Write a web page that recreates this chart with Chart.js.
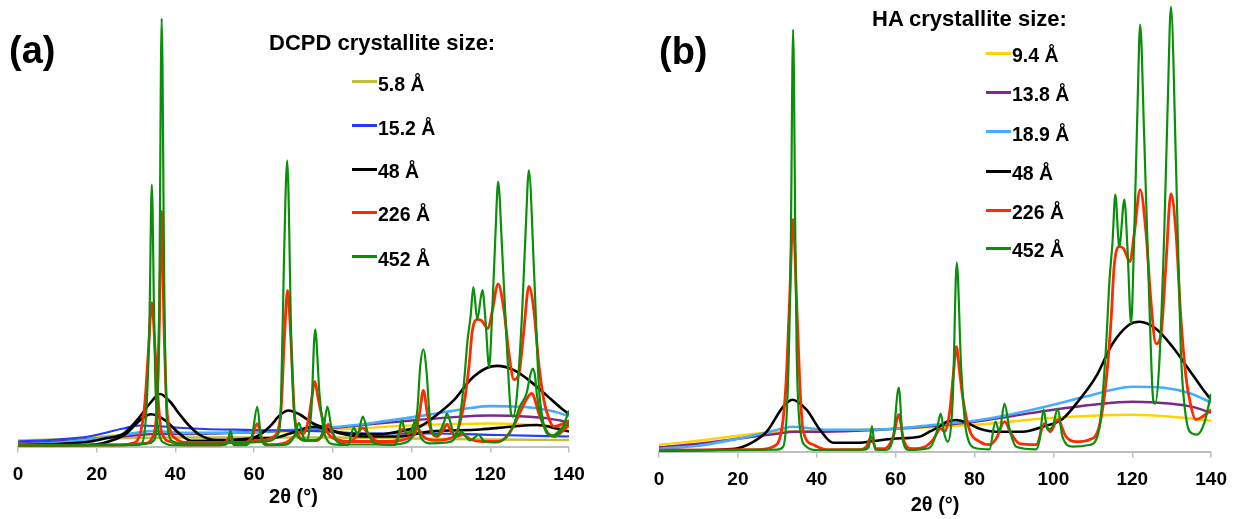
<!DOCTYPE html>
<html lang="en">
<head>
<meta charset="UTF-8" />
<title>Crystallite size – DCPD / HA</title>
<script src="https://cdn.jsdelivr.net/npm/chart.js"></script>
<style>
  body { margin: 0; background: #fff; }
  #wrap { position: relative; width: 1238px; height: 519px; overflow: hidden;
          font-family: "Liberation Sans", Arial, sans-serif; font-weight: bold; color: #000; }
  canvas { position: absolute; top: 0; }
  #chartA { left: 0; }
  #chartB { left: 620px; }
  .tag { position: absolute; font-size: 38px; line-height: 38px; }
  .head { position: absolute; font-size: 22px; line-height: 22px; white-space: nowrap; }
  .sw { position: absolute; width: 25px; height: 3px; }
  .key { position: absolute; font-size: 19.5px; line-height: 19.5px; white-space: nowrap; }
</style>
</head>
<body>
<div id="wrap">
  <canvas id="chartA" width="600" height="519"></canvas>
  <canvas id="chartB" width="618" height="519"></canvas>
  <div class="tag" style="left:9px; top:31px;">(a)</div>
  <div class="tag" style="left:659px; top:32px;">(b)</div>
  <div class="head" style="left:269px; top:32px;">DCPD crystallite size:</div>
  <div class="head" style="left:872px; top:8px;">HA crystallite size:</div>
</div>

<script>
  // x = 2θ (°), y = intensity (arb. units)

  // --- DCPD patterns (panel a) ---
  const dcpd58 = [[0,6],[20,8],[40,9],[60,9],[80,9],[100,8],[120,7],[140,6.5]];
  const dcpd152 = [[0,5],[10,7],[18,10],[26.8,18],[31,21],[35,20.5],[44,18],[60,16.5],[78,15],[88,13],[105,13],[122,11.5],[140,10]];
  const dcpd48 = [[0,1.5],[10,2.5],[18.3,5],[22,8],[26.8,13],[31,30],[33.5,43],[36.1,52.5],[38.6,45],[41.2,31.5],[43.7,20],[46.2,11.5],[50.5,6.5],
    [56.4,6.5],[60.6,10],[64,20],[66.6,31.5],[68.7,36],[71.6,32],[75,23],[78.4,18],[82,13],[87.7,10],[96.2,10],[104.7,15],[117.4,17],
    [125.8,20],[131.8,21.5],[136.9,18],[140,15]];
  const dcpd226 = [[0,1],[25,1.5],[32,3],[34.5,12],[35.3,40],[35.9,120],[36.5,235],[37.1,120],[37.8,40],[38.8,15],[40,8],[43,4],[55,4],
    [62,6],[65,10],[66.8,35],[67.7,110],[68.5,156],[69.3,110],[70.2,35],[71.2,12],[73,6],[76,6],[77.8,14],[78.8,22],[79.8,14],[81,7],
    [85,5],[95,5],[99,8],[101,14],[102,33],[103,56],[104,33],[105,15],[106.5,10],[107.8,15],[109,22],[110.2,14],[111.5,10],[113,12],
    [115,7],[118,5],[122,5],[124.2,10],[126.5,25],[128.5,42],[130.5,53],[132.6,30],[134.7,13],[136.3,10],[138,14],[140,22]];
  const dcpd452 = [[0,1],[20,1.5],[30,2],[33,3],[34.5,6],[35.3,30],[35.9,146],[36.5,428],[37.2,146],[37.9,23],[39.4,5],[42,3],[50,3],
    [58,4],[63,5],[66,12],[66.8,40],[67.6,190],[68.4,286],[69.5,96],[70.4,23],[71.6,8],[74,6],[76.6,8],[77.7,20],[78.6,40],[79.6,20],
    [81,5],[84,2],[95,2],[99,5],[100.6,15],[101.5,38],[102.2,80],[103,97],[103.8,75],[104.5,35],[105.2,15],[106.4,11],[107.2,15],
    [108.3,25],[109,33],[109.8,25],[111,10],[112,12],[112.7,15],[113.6,11],[114.8,6],[116,9],[117,11.5],[118.6,5],[121.4,4],
    [124.2,10],[125.8,20],[127.5,40],[129.2,53],[130.2,72],[130.8,78],[131.4,70],[131.8,53],[133.1,26],[134.3,15],[135.9,11],
    [138.1,18],[140,24]];

  // --- HA patterns (panel b, also shown compressed in panel a) ---
  const ha94 = [[0,7],[10,11],[20,16],[30,20],[40,21],[60,23],[80,27],[100,34],[110,36],[120,37],[130,35],[140,31]];
  const ha138 = [[0,4.5],[10,8],[20,13],[30,18],[34,20],[40,20],[50,21],[60,23],[70,26],[80,30],[90,36],[100,42],[110,47],[120,50],
    [130,48],[135,45],[140,39]];
  const ha189 = [[0,3],[10,6],[20,13],[27,19],[31,23],[34,25],[37,24],[42,22],[50,22],[60,23],[70,27],[80,31],[90,38],[100,47],
    [110,57],[115,62],[120,65],[128,64],[135,58],[140,49]];
  const ha48 = [[0,1],[15,2],[20,3.4],[24,10],[27.3,20],[31.5,45],[33.8,52],[37.4,42],[40.8,22],[44.1,9],[50.5,9],[55,11],[59.3,13],
    [66,15],[68.6,20],[71.1,25],[73,30],[75.4,31.7],[77.4,30],[81.3,23],[85.5,20],[92.2,20],[97.3,25],[102.4,33],[106.6,52],
    [110.8,75],[115,108],[119.2,127],[121.8,130],[126,123],[130.2,105],[134.4,82],[137.8,63],[140,52]];
  const ha226 = [[0,1.5],[25,2],[28.9,5],[31.1,22],[32.2,68],[33.1,150],[34,232],[34.9,150],[35.7,68],[36.5,22],[39.1,7],[42.5,2],
    [51,2],[52.6,5],[53.8,15],[55,3],[57,3],[59.4,15],[60.8,37],[62,12],[64.2,3],[67.5,5],[69.5,12],[71.4,23],[72.4,20],[73.7,40],
    [74.7,80],[75.4,105],[76.2,80],[77.1,52],[78.7,22],[81.3,10],[83.8,7],[85.5,13],[87.6,30],[89.3,18],[91.4,8],[95.7,7],
    [97.7,28],[99.2,20],[101.1,32],[103.2,15],[105.7,10],[109.1,12],[111.6,25],[113.3,68],[114.6,130],[115.4,185],[116.7,205],
    [117.8,203],[119.4,190],[120.5,218],[122,262],[123.5,218],[124.7,152],[126,108],[127.3,118],[128.5,185],[129.8,258],
    [131.1,218],[132.3,135],[133.6,75],[134.9,45],[136.1,32],[137.8,35],[140,42]];
  const ha452 = [[0,1],[30,2],[31.5,5],[32.7,68],[33.4,200],[34,422],[34.6,200],[34.9,102],[35.7,25],[37.4,5],[39.9,1.7],[52,2],
    [53.2,5],[54,25.7],[54.8,2],[57.4,1.7],[59.4,15],[60.8,64],[61.8,12],[63.4,1.7],[68.4,3.4],[70.3,18],[71.4,38],[72.4,17],
    [73.2,10],[74.5,55],[75.5,189],[76.6,85],[77.9,20],[80.4,3.4],[83.8,2.4],[85.3,30],[86.3,20],[87.6,48],[88.9,22],[90.6,5],
    [95.6,2.4],[96.5,12],[97.5,42],[98.5,22],[99.8,25],[101.1,43],[102.3,15],[104.9,5],[109.1,6.7],[111.6,22],[113.3,102],
    [114.2,170],[115,210],[115.7,257],[116.7,205],[118,252],[118.8,202],[119.7,128],[120.5,218],[121.3,340],[122,427],[123,318],
    [124.3,152],[125.3,52],[125.8,48],[126.8,85],[128.1,218],[129,350],[129.8,445],[131.1,285],[132.3,102],[133.6,35],[135.3,18],
    [136.4,17],[138.2,28],[140,58]];

  const dcpdLabels = ['5.8 Å', '15.2 Å', '48 Å', '226 Å', '452 Å'];
  const haLabels = ['9.4 Å', '13.8 Å', '18.9 Å', '48 Å', '226 Å', '452 Å'];
  const xTicks = [0, 20, 40, 60, 80, 100, 120, 140];

  const yMaxA = 440.5;     // panel a, DCPD intensity scale
  const yMaxHaInA = 710;   // HA curves in panel a sit on a compressed axis
  const yMaxB = 445.7;

  const C = { olive: '#bfbf3c', blue: '#1f3cff', black: '#000000', red: '#ff2a00', green: '#0a8f0a',
              gold: '#ffd200', purple: '#7b2a86', sky: '#44adff' };

  const font = (size) => ({ family: '"Liberation Sans", Arial, sans-serif', size: size, weight: 'bold' });

  function line(label, pts, color, width, axis) {
    return {
      label: label,
      data: pts.map(p => ({ x: p[0], y: p[1] })),
      borderColor: color,
      borderWidth: width,
      pointRadius: 0,
      fill: false,
      cubicInterpolationMode: 'monotone',
      borderJoinStyle: 'round',
      yAxisID: axis || 'y'
    };
  }

  function xAxis(height, titlePadBottom) {
    return {
      type: 'linear', min: 0, max: 140,
      border: { display: true, color: '#bfbfbf', width: 2 },
      grid: { display: true, drawOnChartArea: false, drawTicks: true, tickLength: 6, color: '#bfbfbf', lineWidth: 1.5 },
      afterBuildTicks: s => { s.ticks = xTicks.map(v => ({ value: v })); },
      ticks: { color: '#000', font: font(19), padding: 11, maxRotation: 0, autoSkip: false },
      title: { display: true, text: '2θ (°)', color: '#000', font: font(20), padding: { top: 0, bottom: titlePadBottom } },
      afterFit: s => { s.height = height; }
    };
  }

  const common = {
    responsive: false,
    animation: false,
    devicePixelRatio: 1,
    events: [],
    plugins: { legend: { display: false }, tooltip: { enabled: false } }
  };

  // panel (a): first dataset is drawn on top
  new Chart(document.getElementById('chartA'), {
    type: 'line',
    data: {
      datasets: [
        line(dcpdLabels[4], dcpd452, C.green, 2.2),
        line('HA 452 Å', ha452, C.green, 2.2, 'yHa'),
        line(dcpdLabels[3], dcpd226, C.red, 2.8),
        line('HA 226 Å', ha226, C.red, 2.8, 'yHa'),
        line(dcpdLabels[2], dcpd48, C.black, 2.6),
        line('HA 48 Å', ha48, C.black, 2.6, 'yHa'),
        line(dcpdLabels[1], dcpd152, C.blue, 2.2),
        line('HA 18.9 Å', ha189, C.sky, 2.6, 'yHa'),
        line('HA 13.8 Å', ha138, C.purple, 2.4, 'yHa'),
        line('HA 9.4 Å', ha94, C.gold, 2.4, 'yHa'),
        line(dcpdLabels[0], dcpd58, C.olive, 2.4)
      ]
    },
    options: Object.assign({}, common, {
      layout: { padding: { left: 18, right: 31, top: 6, bottom: 0 } },
      scales: {
        x: xAxis(519 - 446.5, 10),
        y: { display: false, min: 0, max: yMaxA },
        yHa: { display: false, min: 0, max: yMaxHaInA }
      }
    })
  });

  // panel (b)
  new Chart(document.getElementById('chartB'), {
    type: 'line',
    data: {
      datasets: [
        line(haLabels[5], ha452, C.green, 2.2),
        line(haLabels[4], ha226, C.red, 2.8),
        line(haLabels[3], ha48, C.black, 2.6),
        line(haLabels[2], ha189, C.sky, 2.6),
        line(haLabels[1], ha138, C.purple, 2.4),
        line(haLabels[0], ha94, C.gold, 2.4)
      ]
    },
    options: Object.assign({}, common, {
      layout: { padding: { left: 39, right: 26, top: 6, bottom: 0 } },
      scales: {
        x: xAxis(519 - 451.7, 1.5),
        y: { display: false, min: 0, max: yMaxB }
      }
    })
  });

  // legend keys
  const wrap = document.getElementById('wrap');
  function addKeys(labels, colors, swX, textX, rowsY) {
    labels.forEach((lab, i) => {
      const sw = document.createElement('div');
      sw.className = 'sw';
      sw.style.left = swX + 'px';
      sw.style.top = (rowsY[i] - 1.5) + 'px';
      sw.style.background = colors[i];
      wrap.appendChild(sw);
      const t = document.createElement('div');
      t.className = 'key';
      t.style.left = textX + 'px';
      t.style.top = (rowsY[i] + 2.5 - 9.5) + 'px';
      t.textContent = lab;
      wrap.appendChild(t);
    });
  }
  addKeys(dcpdLabels, [C.olive, C.blue, C.black, C.red, C.green], 352, 378, [81.7, 125.7, 169.3, 212.3, 256.7]);
  addKeys(haLabels, [C.gold, C.purple, C.sky, C.black, C.red, C.green], 986, 1012, [53.3, 92.3, 131.7, 171, 210, 248.3]);
</script>
</body>
</html>
